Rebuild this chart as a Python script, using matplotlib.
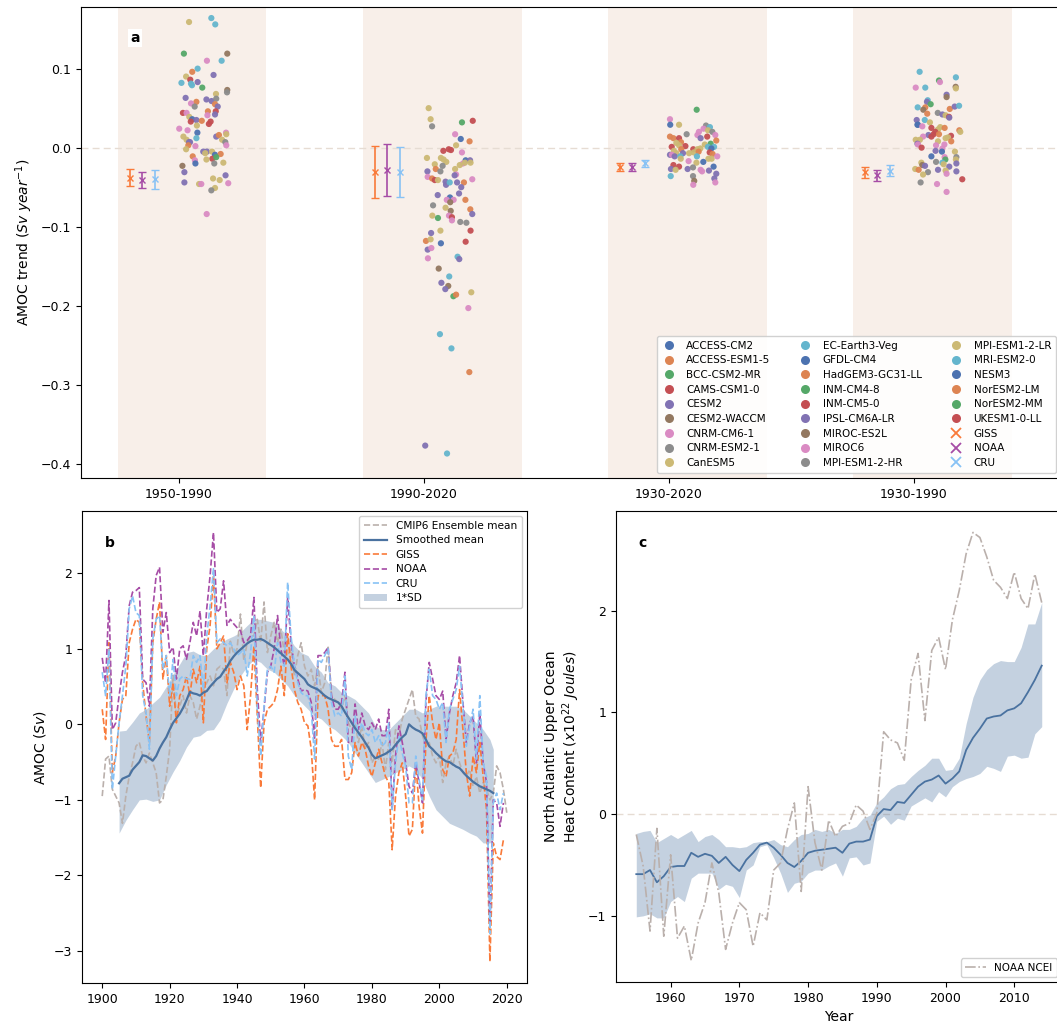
import numpy as np
import matplotlib.pyplot as plt
from matplotlib.lines import Line2D

# ------------------------------
# DATA - panel a (AMOC trends per period)
# ------------------------------
periods = ['1950-1990', '1990-2020', '1930-2020', '1930-1990']

models = ['ACCESS-CM2', 'ACCESS-ESM1-5', 'BCC-CSM2-MR', 'CAMS-CSM1-0', 'CESM2',
          'CESM2-WACCM', 'CNRM-CM6-1', 'CNRM-ESM2-1', 'CanESM5', 'EC-Earth3-Veg',
          'GFDL-CM4', 'HadGEM3-GC31-LL', 'INM-CM4-8', 'INM-CM5-0', 'IPSL-CM6A-LR',
          'MIROC-ES2L', 'MIROC6', 'MPI-ESM1-2-HR', 'MPI-ESM1-2-LR', 'MRI-ESM2-0',
          'NESM3', 'NorESM2-LM', 'NorESM2-MM', 'UKESM1-0-LL']

obs_names = ['GISS', 'NOAA', 'CRU']
giss_trend = [-0.038, -0.031, -0.024, -0.031]
giss_err = [0.011, 0.033, 0.005, 0.007]
noaa_trend = [-0.041, -0.028, -0.025, -0.035]
noaa_err = [0.010, 0.033, 0.005, 0.007]
cru_trend = [-0.040, -0.031, -0.020, -0.029]
cru_err = [0.012, 0.032, 0.005, 0.007]

# model members: jitter within the period, trend, colour class (palette letter)
p1_jit = [0.041, 0.132, 0.148, 0.020, 0.197, 0.114, 0.174, 0.076, 0.054, 0.141,
          0.029, 0.046, 0.010, 0.076, 0.049, 0.053, 0.095, 0.151, 0.197, 0.196,
          0.027, 0.112, 0.133, 0.152, 0.071, 0.049, 0.064, 0.147, 0.158, 0.016,
          0.031, 0.118, 0.150, 0.147, 0.042, 0.116, 0.054, 0.071, 0.048, 0.093,
          0.073, 0.129, 0.122, 0.001, 0.035, 0.075, 0.018, 0.071, 0.152, 0.163,
          0.192, 0.193, 0.031, 0.041, 0.045, 0.176, 0.189, 0.038, 0.067, 0.029,
          0.193, 0.099, 0.114, 0.107, 0.135, 0.147, 0.170, 0.056, 0.065, 0.136,
          0.152, 0.112, 0.067, 0.144, 0.181, 0.014, 0.022, 0.190, 0.022, 0.082,
          0.091, 0.139, 0.166, 0.201, 0.147, 0.132, 0.113]
p1_trend = [0.159, 0.164, 0.156, 0.119, 0.119, 0.110, 0.110, 0.100, 0.096, 0.092,
            0.090, 0.086, 0.082, 0.083, 0.081, 0.079, 0.076, 0.068, 0.073, 0.070,
            0.063, 0.061, 0.059, 0.062, 0.058, 0.056, 0.052, 0.055, 0.052, 0.044,
            0.044, 0.046, 0.046, 0.042, 0.039, 0.041, 0.036, 0.035, 0.033, 0.034,
            0.028, 0.033, 0.030, 0.024, 0.022, 0.019, 0.014, 0.012, 0.014, 0.016,
            0.019, 0.017, 0.010, 0.007, 0.007, 0.010, 0.007, 0.003, 0.002, -0.002,
            0.003, -0.005, -0.005, -0.007, -0.005, -0.009, -0.008, -0.011, -0.016, -0.014,
            -0.012, -0.015, -0.020, -0.020, -0.019, -0.023, -0.031, -0.035, -0.044, -0.046,
            -0.046, -0.039, -0.041, -0.045, -0.051, -0.054, -0.084]
p1_cls = ("LCCGNKCCOP" "LRCPCCGLNY" "PPPYOKYOPR" "KORPLKBPRO" "LRRKKBLCPO"
          "KLLPPLYOKL" "KPPLLBOOKR" "GLBYLNPPPL" "KLLKLYK")

p2_jit = [0.019, 0.027, 0.033, 0.155, 0.199, 0.127, 0.150, 0.186, 0.131, 0.079,
          0.101, 0.110, 0.155, 0.012, 0.069, 0.080, 0.091, 0.044, 0.076, 0.170,
          0.188, 0.159, 0.167, 0.190, 0.146, 0.048, 0.067, 0.127, 0.014, 0.131,
          0.125, 0.015, 0.033, 0.044, 0.057, 0.088, 0.090, 0.105, 0.135, 0.163,
          0.197, 0.152, 0.056, 0.143, 0.106, 0.093, 0.121, 0.107, 0.169, 0.037,
          0.088, 0.109, 0.189, 0.197, 0.034, 0.057, 0.102, 0.114, 0.114, 0.148,
          0.173, 0.190, 0.029, 0.067, 0.008, 0.027, 0.170, 0.069, 0.015, 0.030,
          0.016, 0.137, 0.144, 0.060, 0.103, 0.071, 0.099, 0.087, 0.120, 0.131,
          0.193, 0.181, 0.065, 0.112, 0.185, 0.005, 0.094]
p2_trend = [0.050, 0.036, 0.027, 0.032, 0.034, 0.017, 0.011, 0.008, 0.003, -0.004,
            -0.002, -0.003, -0.006, -0.013, -0.013, -0.015, -0.018, -0.021, -0.023, -0.016,
            -0.016, -0.020, -0.019, -0.019, -0.022, -0.027, -0.030, -0.027, -0.030, -0.034,
            -0.035, -0.037, -0.039, -0.041, -0.041, -0.043, -0.047, -0.044, -0.044, -0.044,
            -0.040, -0.050, -0.060, -0.058, -0.063, -0.066, -0.066, -0.069, -0.066, -0.073,
            -0.076, -0.080, -0.078, -0.084, -0.086, -0.089, -0.086, -0.088, -0.092, -0.094,
            -0.095, -0.105, -0.108, -0.105, -0.118, -0.116, -0.119, -0.121, -0.129, -0.127,
            -0.140, -0.138, -0.141, -0.153, -0.163, -0.171, -0.175, -0.179, -0.188, -0.186,
            -0.183, -0.203, -0.236, -0.254, -0.284, -0.377, -0.387]
p2_cls = ("LLYGRKBOLR" "RRKLLLLLYB" "PKLLLOYLPK" "PKORLPPCPO" "KPPPBKKNOY"
          "LNOPLGKRKY" "YRPLOLRBPK" "KCPNCPNPGO" "LKCCOPC")

p3_jit = [0.113, 0.004, 0.005, 0.041, 0.151, 0.167, 0.141, 0.159, 0.177, 0.072,
          0.122, 0.116, 0.189, 0.004, 0.018, 0.041, 0.156, 0.129, 0.193, 0.049,
          0.030, 0.170, 0.146, 0.011, 0.041, 0.067, 0.159, 0.184, 0.099, 0.116,
          0.128, 0.020, 0.050, 0.173, 0.082, 0.101, 0.030, 0.057, 0.121, 0.166,
          0.178, 0.004, 0.012, 0.023, 0.046, 0.048, 0.114, 0.161, 0.174, 0.197,
          0.080, 0.112, 0.140, 0.018, 0.041, 0.182, 0.008, 0.027, 0.076, 0.098,
          0.129, 0.135, 0.163, 0.193, 0.007, 0.098, 0.103, 0.185, 0.189, 0.099]
p3_trend = [0.048, 0.036, 0.029, 0.029, 0.028, 0.026, 0.024, 0.022, 0.020, 0.017,
            0.020, 0.016, 0.016, 0.014, 0.012, 0.012, 0.014, 0.012, 0.009, 0.007,
            0.006, 0.005, 0.004, 0.001, 0.003, 0.002, 0.001, 0.001, -0.002, -0.002,
            -0.001, -0.004, -0.002, -0.001, -0.007, -0.006, -0.007, -0.007, -0.005, -0.006,
            -0.008, -0.009, -0.009, -0.011, -0.011, -0.014, -0.011, -0.014, -0.014, -0.011,
            -0.017, -0.019, -0.018, -0.022, -0.024, -0.024, -0.027, -0.028, -0.027, -0.025,
            -0.028, -0.030, -0.029, -0.033, -0.036, -0.036, -0.042, -0.039, -0.044, -0.047]
p3_cls = ("GKBLYCKLYY" "KKKOORRPOO" "LGLRLRCCRL" "LLOBLLLPOR" "OPKPCLCLLK"
          "KLBRRBPLPY" "KKPPCYNPKK")

p4_jit = [0.023, 0.102, 0.171, 0.106, 0.007, 0.046, 0.170, 0.171, 0.133, 0.133,
          0.056, 0.053, 0.068, 0.015, 0.046, 0.038, 0.146, 0.166, 0.184, 0.097,
          0.054, 0.116, 0.129, 0.143, 0.144, 0.011, 0.044, 0.065, 0.014, 0.016,
          0.034, 0.071, 0.098, 0.107, 0.125, 0.087, 0.080, 0.059, 0.071, 0.102,
          0.185, 0.189, 0.151, 0.037, 0.007, 0.024, 0.129, 0.139, 0.152, 0.014,
          0.016, 0.031, 0.098, 0.090, 0.124, 0.116, 0.088, 0.114, 0.167, 0.071,
          0.125, 0.173, 0.171, 0.128, 0.030, 0.090, 0.116, 0.034, 0.045, 0.173,
          0.121, 0.144, 0.005, 0.019, 0.098, 0.129, 0.057, 0.037, 0.173, 0.133,
          0.197, 0.027, 0.094, 0.133]
p4_trend = [0.096, 0.085, 0.089, 0.083, 0.076, 0.076, 0.077, 0.075, 0.067, 0.064,
            0.060, 0.058, 0.055, 0.051, 0.051, 0.048, 0.049, 0.052, 0.053, 0.044,
            0.043, 0.042, 0.041, 0.039, 0.038, 0.035, 0.035, 0.032, 0.029, 0.029,
            0.027, 0.025, 0.023, 0.026, 0.025, 0.020, 0.017, 0.016, 0.014, 0.017,
            0.022, 0.020, 0.015, 0.014, 0.010, 0.010, 0.012, 0.013, 0.008, 0.005,
            0.004, 0.000, 0.008, 0.003, 0.004, -0.001, -0.004, -0.005, -0.005, -0.011,
            -0.012, -0.012, -0.015, -0.015, -0.019, -0.018, -0.019, -0.022, -0.023, -0.020,
            -0.021, -0.024, -0.027, -0.028, -0.028, -0.029, -0.031, -0.034, -0.030, -0.033,
            -0.040, -0.044, -0.046, -0.056]
p4_cls = ("CGCKKCNLPN" "CPGCONOPCY" "OPLRPPCLBB" "KRLLORRPRO" "OLRKLLLLOP"
          "KRLKKKPBLB" "KYLGLYCNPP" "LPLOPLYLPK" "RYKK")

# ------------------------------
# DATA - panel b (AMOC index)
# ------------------------------
obs_years = np.arange(1900, 2020)
giss_amoc = [0.20, -0.20, 1.08, -0.64, -0.42, 0.02, 0.33, 0.38, 1.08, 1.26,
             1.39, 1.35, 0.55, 0.11, -0.24, 1.08, 1.39, 1.62, 0.60, 0.91,
             0.24, 0.55, 0.02, 0.38, 0.46, 0.64, 0.38, 0.73, 0.55, 0.77,
             0.02, 1.00, 1.31, 1.97, 1.00, 1.08, 1.17, 0.55, 0.82, 0.69,
             0.46, 0.64, 0.51, -0.07, 0.38, 1.04, 0.11, -0.84, 0.02, 0.20,
             0.24, 0.29, 0.46, 0.77, 0.38, 1.20, 0.77, 0.46, 0.29, 0.20,
             0.02, -0.02, -0.33, -1.00, 0.38, 0.38, 0.38, 0.20, -0.20, -0.29,
             -0.29, -0.20, -0.73, -0.73, -0.64, -0.24, -0.42, -0.24, -0.33, -0.55,
             -0.69, -0.51, -0.33, -0.51, -0.69, -0.77, -1.66, -0.95, -0.64, -0.51,
             -0.95, -1.48, -1.39, -0.51, -1.09, -1.44, -0.24, 0.38, 0.02, -0.20,
             0.02, -0.60, -0.69, -0.42, -0.38, -0.20, 0.46, -0.07, -0.64, -0.95,
             -0.42, -0.64, -0.24, -0.69, -1.13, -3.14, -1.57, -1.75, -1.79, -1.53]
noaa_amoc = [0.88, 0.55, 1.64, -0.07, 0.02, 0.38, 0.69, 0.91, 1.57, 1.75,
             1.77, 1.81, 0.60, 0.55, 0.24, 1.53, 1.97, 2.08, 1.22, 1.48,
             0.95, 1.02, 0.60, 1.00, 1.04, 0.86, 1.08, 1.35, 1.17, 1.50,
             0.91, 1.53, 1.97, 2.54, 1.48, 1.53, 1.90, 1.31, 1.39, 1.33,
             1.28, 1.24, 1.08, 1.11, 1.17, 1.68, 0.46, -0.24, 0.20, 0.69,
             0.77, 1.00, 1.44, 1.00, 0.77, 1.68, 1.08, 0.77, 0.60, 0.44,
             0.46, 0.44, 0.29, -0.20, 0.91, 0.91, 0.95, 1.02, 0.38, 0.20,
             0.20, 0.29, 0.69, -0.24, -0.24, 0.27, -0.07, 0.15, -0.02, -0.07,
             0.02, -0.07, 0.07, -0.15, -0.15, 0.20, -1.13, -0.42, -0.02, -0.24,
             -0.51, -0.82, -0.91, -0.51, -0.77, -1.04, 0.29, 0.82, 0.60, 0.38,
             0.33, 0.44, -0.20, 0.15, 0.38, 0.55, 0.91, 0.29, -0.24, 0.02,
             0.11, -0.51, 0.15, -0.51, -0.77, -2.68, -1.00, -1.04, -1.35, -1.04]
cru_amoc = [0.69, 0.38, 1.00, -0.86, -0.42, 0.02, 0.38, 0.77, 1.53, 1.70,
            1.48, 1.44, 0.38, 0.15, -0.33, 1.13, 1.39, 1.44, 0.73, 0.91,
            0.38, 0.86, 0.38, 0.60, 0.64, 0.60, 0.60, 0.91, 0.82, 0.91,
            0.46, 1.17, 1.57, 2.06, 1.08, 1.13, 1.08, 1.04, 1.08, 1.00,
            0.91, 0.95, 1.00, 0.64, 0.95, 1.44, 0.20, -0.42, 0.24, 0.73,
            0.77, 0.69, 1.08, 0.82, 0.77, 1.88, 1.17, 0.77, 0.55, 0.42,
            0.38, 0.38, 0.20, -0.46, 0.86, 0.82, 0.91, 1.00, 0.29, 0.11,
            0.15, 0.11, 0.64, -0.42, -0.60, 0.11, -0.15, 0.02, -0.11, -0.15,
            -0.07, -0.24, -0.15, -0.29, -0.24, 0.02, -1.13, -0.51, -0.15, -0.38,
            -0.55, -1.04, -1.04, -0.42, -0.73, -1.00, 0.38, 0.73, 0.38, 0.33,
            0.20, 0.29, -0.24, 0.20, 0.33, 0.46, 0.77, 0.24, -0.29, -0.02,
            0.20, -0.46, 0.38, -0.51, -0.69, -2.77, -1.04, -0.91, -1.13, -0.91]

cmip_years = np.arange(1900, 2021)
cmip_mean = [-0.95, -0.46, -0.42, -0.86, -0.95, -1.04, -1.31, -0.95, -0.69, -0.51,
             -0.29, -0.24, -0.42, -0.51, -0.38, -0.51, -0.64, -1.04, -1.00, -0.69,
             -0.33, 0.65, 0.11, 0.24, 0.38, 0.15, 0.38, 0.29, 0.07, 0.24,
             0.46, 0.55, 0.64, 0.51, 0.73, 0.77, 0.73, 0.38, 1.10, 0.93,
             1.00, 1.46, 0.84, 1.08, 1.17, 1.17, 1.39, 1.08, 1.62, 0.95,
             1.17, 1.35, 1.08, 1.26, 0.95, 0.91, 1.00, 0.64, 0.91, 1.08,
             0.77, 0.64, 0.73, 0.51, 0.77, 0.42, 0.55, 1.04, 0.38, 0.33,
             0.29, 0.20, 0.38, 0.02, -0.07, 0.02, -0.24, -0.02, -0.33, -0.24,
             -0.51, -0.42, -0.46, -0.24, -0.60, -0.24, -0.51, -0.07, -0.15, 0.07,
             0.20, 0.33, 0.46, 0.11, 0.07, -0.15, -0.29, -0.24, -0.42, -0.51,
             -0.42, -0.77, -0.51, -0.42, -0.55, -0.33, -0.51, -0.64, -0.69, -0.60,
             -0.82, -0.69, -0.91, -0.77, -0.86, -1.00, -0.91, -0.55, -0.64, -0.86, -1.17]

smooth_years = np.arange(1905, 2017)
smooth_mean = [-0.78, -0.72, -0.70, -0.68, -0.60,
               -0.55, -0.50, -0.41, -0.42, -0.45, -0.48, -0.42, -0.32, -0.24, -0.17,
               -0.07, 0.02, 0.08, 0.14, 0.22, 0.32, 0.43, 0.41, 0.40, 0.38,
               0.42, 0.44, 0.50, 0.55, 0.60, 0.63, 0.70, 0.76, 0.84, 0.90,
               0.95, 0.99, 1.03, 1.07, 1.10, 1.12, 1.12, 1.13, 1.11, 1.08,
               1.05, 1.02, 0.98, 0.94, 0.90, 0.86, 0.80, 0.72, 0.68, 0.64,
               0.60, 0.53, 0.50, 0.48, 0.46, 0.42, 0.38, 0.35, 0.33, 0.31,
               0.29, 0.24, 0.16, 0.09, 0.02, -0.05, -0.11, -0.17, -0.24, -0.31,
               -0.40, -0.45, -0.43, -0.41, -0.39, -0.36, -0.33, -0.27, -0.22, -0.17,
               -0.13, 0.00, -0.04, -0.07, -0.09, -0.12, -0.20, -0.29, -0.33, -0.38,
               -0.42, -0.46, -0.49, -0.50, -0.53, -0.56, -0.58, -0.63, -0.68, -0.72,
               -0.76, -0.79, -0.82, -0.84, -0.86, -0.88, -0.91]

sd_years = list(range(1905, 2016, 2)) + [2016]
sd_upper = [-0.09, -0.08, 0.03, 0.15, 0.20, 0.28, 0.36, 0.50, 0.66, 0.80,
            0.95, 0.97, 0.92, 0.91, 1.00, 1.08, 1.13, 1.17, 1.22, 1.31,
            1.39, 1.39, 1.37, 1.35, 1.26, 1.17, 1.04, 0.95, 0.91, 0.77,
            0.69, 0.55, 0.51, 0.42, 0.38, 0.33, 0.24, 0.15, -0.02, -0.07,
            -0.07, 0.02, 0.11, 0.20, 0.20, 0.15, 0.20, 0.24, 0.24, 0.24,
            0.24, 0.20, 0.11, 0.02, -0.07, -0.20, -0.33]
sd_lower = [-1.44, -1.27, -1.13, -1.00, -0.99, -1.02, -1.00, -0.80, -0.63, -0.48,
            -0.30, -0.17, -0.15, -0.08, -0.07, 0.06, 0.28, 0.47, 0.64, 0.77,
            0.86, 0.82, 0.73, 0.69, 0.60, 0.51, 0.38, 0.29, 0.20, 0.11,
            0.07, -0.02, -0.07, -0.15, -0.24, -0.38, -0.51, -0.64, -0.77, -0.73,
            -0.69, -0.64, -0.60, -0.55, -0.60, -0.73, -0.95, -1.13, -1.22, -1.31,
            -1.35, -1.39, -1.44, -1.48, -1.57, -1.57, -1.53]

# ------------------------------
# DATA - panel c (North Atlantic upper ocean heat content)
# ------------------------------
ohc_years = np.arange(1955, 2015)
ncei_ohc = [-0.20, -0.51, -1.15, -0.14, -1.20, -0.40, -1.22, -1.10, -1.44, -1.07,
            -0.87, -0.48, -0.77, -1.33, -1.07, -0.87, -0.94, -1.30, -0.97, -1.04,
            -0.55, -0.48, -0.15, 0.11, -0.76, 0.27, -0.28, -0.55, -0.06, -0.22,
            -0.12, -0.09, 0.09, 0.03, -0.15, 0.01, 0.81, 0.73, 0.70, 0.53,
            1.32, 1.58, 0.92, 1.61, 1.74, 1.42, 1.91, 2.20, 2.56, 2.77,
            2.72, 2.53, 2.30, 2.23, 2.12, 2.38, 2.12, 2.02, 2.36, 2.08]
model_ohc = [-0.59, -0.59, -0.55, -0.67, -0.61, -0.52, -0.51, -0.51, -0.38, -0.42,
             -0.39, -0.41, -0.48, -0.42, -0.50, -0.56, -0.45, -0.38, -0.30, -0.28,
             -0.33, -0.40, -0.48, -0.52, -0.46, -0.38, -0.36, -0.35, -0.34, -0.33,
             -0.38, -0.29, -0.27, -0.27, -0.25, -0.02, 0.05, 0.04, 0.12, 0.11,
             0.19, 0.27, 0.32, 0.34, 0.38, 0.30, 0.35, 0.42, 0.63, 0.75,
             0.84, 0.94, 0.96, 0.97, 1.02, 1.04, 1.09, 1.20, 1.32, 1.46]
ohc_upper = [-0.19, -0.17, -0.16, -0.28, -0.24, -0.20, -0.24, -0.20, -0.16, -0.27,
             -0.22, -0.20, -0.25, -0.32, -0.32, -0.33, -0.32, -0.28, -0.27, -0.27,
             -0.25, -0.30, -0.32, -0.25, -0.20, -0.19, -0.15, -0.17, -0.15, -0.19,
             -0.15, -0.15, -0.12, -0.04, -0.01, 0.11, 0.17, 0.25, 0.29, 0.30,
             0.37, 0.43, 0.48, 0.55, 0.55, 0.43, 0.44, 0.55, 0.89, 1.15,
             1.32, 1.42, 1.48, 1.51, 1.50, 1.50, 1.64, 1.87, 1.87, 2.08]
ohc_lower = [-1.01, -1.00, -0.98, -1.02, -1.02, -0.86, -0.81, -0.86, -0.63, -0.58,
             -0.58, -0.58, -0.74, -0.69, -0.71, -0.82, -0.55, -0.50, -0.32, -0.30,
             -0.43, -0.58, -0.77, -0.68, -0.66, -0.58, -0.55, -0.55, -0.51, -0.48,
             -0.61, -0.43, -0.42, -0.50, -0.48, -0.07, -0.02, -0.10, -0.04, -0.06,
             0.08, 0.12, 0.16, 0.12, 0.22, 0.17, 0.27, 0.32, 0.35, 0.37,
             0.40, 0.47, 0.45, 0.42, 0.57, 0.58, 0.55, 0.56, 0.79, 0.86]

# ------------------------------
# STYLE
# ------------------------------
deep = ['#4C72B0', '#DD8452', '#55A868', '#C44E52', '#8172B3',
        '#937860', '#DA8BC3', '#8C8C8C', '#CCB974', '#64B5CD']
cls_letters = 'BOGRPNKYLC'   # palette order used by the colour-class strings
obs_colors = ['#f97a3a', '#a64ca6', '#88c2f5']
blue = '#4a72a0'
beige = '#bab0ac'

plt.rcParams['font.size'] = 9
plt.rcParams['xtick.labelsize'] = 9
plt.rcParams['ytick.labelsize'] = 9
plt.rcParams['axes.labelsize'] = 10

W, H = 1057, 1026
fig = plt.figure(figsize=(W / 100, H / 100), dpi=100)

# ------------------------------
# PANEL A
# ------------------------------
ax = fig.add_axes([81 / W, 1 - 478 / H, (1061 - 81) / W, (478 - 7) / H])
for lo, hi in [(-0.25, 0.354), (0.75, 1.40), (1.75, 2.40), (2.75, 3.40)]:
    ax.axvspan(lo, hi, color='#f8efe9', lw=0, zorder=0)
ax.axhline(0, color='#e6dcd3', ls=(0, (5, 3)), lw=1.0, zorder=1)

groups = [(p1_jit, p1_trend, p1_cls), (p2_jit, p2_trend, p2_cls),
          (p3_jit, p3_trend, p3_cls), (p4_jit, p4_trend, p4_cls)]
for g, (jit, trend, cls) in enumerate(groups):
    cols = [deep[cls_letters.index(c)] for c in cls]
    ax.scatter(g + np.array(jit), trend, c=cols, s=20, lw=0, alpha=0.95, zorder=3)

obs_t = [giss_trend, noaa_trend, cru_trend]
obs_e = [giss_err, noaa_err, cru_err]
for k in range(3):
    ax.errorbar(np.arange(4) - 0.2 + 0.05 * k, obs_t[k], yerr=obs_e[k], fmt='x',
                color=obs_colors[k], ms=5, mew=1.0, elinewidth=1.2,
                capsize=3, capthick=1.2, zorder=4)

ax.set_xlim(-0.4, 3.6)
ax.set_ylim(-0.418, 0.178)
ax.set_xticks(range(4))
ax.set_xticklabels(periods)
ax.set_ylabel(r'AMOC trend ($Sv$ $year^{-1}$)')
ax.text(0.055, 0.934, 'a', transform=ax.transAxes, fontsize=10, fontweight='bold',
        va='center', ha='center', bbox=dict(facecolor='white', edgecolor='none', pad=1.5))

handles = [Line2D([], [], marker='o', ls='none', ms=6.5, mew=0, color=deep[i % 10])
           for i in range(len(models))]
handles += [Line2D([], [], marker='x', ls='none', ms=6.5, mew=1.3, color=c) for c in obs_colors]
ax.legend(handles, models + obs_names, loc='lower right', ncol=3, fontsize=7.5,
          labelspacing=0.45, handlelength=1.5, handletextpad=0.9, columnspacing=2.6,
          borderpad=0.45, framealpha=0.9, edgecolor='#cccccc')

# ------------------------------
# PANEL B
# ------------------------------
ax = fig.add_axes([82 / W, 1 - 983 / H, (527 - 82) / W, (983 - 511) / H])
ax.plot(cmip_years, cmip_mean, ls='--', color=beige, lw=1.2, label='CMIP6 Ensemble mean')
ax.plot(smooth_years, smooth_mean, color=blue, lw=1.6, label='Smoothed mean', zorder=5)
ax.plot(obs_years, giss_amoc, ls='--', color=obs_colors[0], lw=1.2, label='GISS')
ax.plot(obs_years, noaa_amoc, ls='--', color=obs_colors[1], lw=1.2, label='NOAA')
ax.plot(obs_years, cru_amoc, ls='--', color=obs_colors[2], lw=1.2, label='CRU')
ax.fill_between(sd_years, sd_lower, sd_upper, color=blue, alpha=0.32, lw=0, label='1*SD')
ax.set_ylabel(r'AMOC ($Sv$)')
ax.legend(loc='upper right', fontsize=7.6, labelspacing=0.42, borderpad=0.45,
          handlelength=2.2, framealpha=0.9, edgecolor='#cccccc')
ax.text(0.063, 0.932, 'b', transform=ax.transAxes, fontsize=10, fontweight='bold',
        va='center', ha='center')

# ------------------------------
# PANEL C
# ------------------------------
ax = fig.add_axes([616 / W, 1 - 982 / H, (1062 - 616) / W, (982 - 511) / H])
ax.axhline(0, color='#e6dcd3', ls=(0, (5, 3)), lw=1.0, zorder=1)
ax.fill_between(ohc_years, ohc_lower, ohc_upper, color=blue, alpha=0.32, lw=0)
ax.plot(ohc_years, model_ohc, color=blue, lw=1.3)
ax.plot(ohc_years, ncei_ohc, ls='-.', color=beige, lw=1.2, label='NOAA NCEI')
ax.set_xlabel('Year')
ax.set_ylabel('North Atlantic Upper Ocean\nHeat Content ($x10^{22}$ $Joules$)')
ax.legend(loc='lower right', fontsize=7.5, framealpha=0.9, edgecolor='#cccccc')
ax.text(0.06, 0.932, 'c', transform=ax.transAxes, fontsize=10, fontweight='bold',
        va='center', ha='center')

fig.savefig('out.png', dpi=100)
